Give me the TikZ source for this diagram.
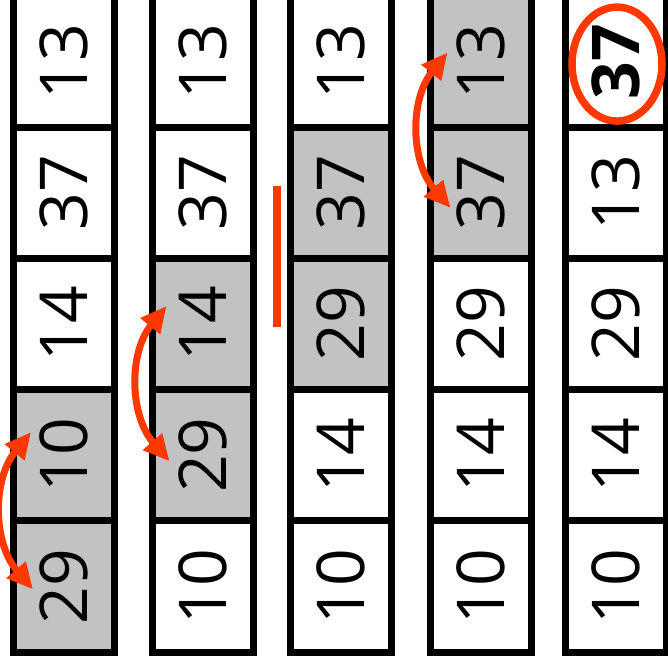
\documentclass[tikz,border=0pt]{standalone}
\usepackage{fontspec}
\setmainfont{Open Sans}
\usepackage{tikz}
\usetikzlibrary{arrows.meta,shapes.geometric}
\definecolor{pickgrey}{RGB}{194,194,194}
\definecolor{swapred}{RGB}{255,56,0}

\begin{document}
\begin{tikzpicture}[x=1pt, y=-1pt, font=\fontsize{66pt}{66pt}\selectfont,
    cell/.style={draw=black, line width=7pt, rotate=90, fill=white,
                 minimum width=131.2pt, minimum height=101pt, inner sep=0pt},
    swap/.style={{Triangle[length=26pt,width=24pt]}-{Triangle[length=26pt,width=24pt]},
                 line width=7pt, swapred},
    ring/.style={draw=swapred, line width=7.5pt}]
\useasboundingbox (0,0) rectangle (668,666);
% passes 1-4, the two compared cells are grey
\foreach \c/\cx/\g/\vals in {1/64/4/{13,37,14,10,29},
                             2/202.5/3/{13,37,14,29,10},
                             3/340.5/2/{13,37,29,14,10},
                             4/480.5/1/{13,37,29,14,10}} {
    \foreach \v [count=\r] in \vals {
        \ifnum\r=\g \def\fc{pickgrey}\else
          \ifnum\r=\numexpr\g+1\relax \def\fc{pickgrey}\else \def\fc{white}\fi\fi
        \node[cell, fill=\fc] (c\c\r) at (\cx,{-4+131.2*(\r-0.5)}) {\v};
    }
}
% result column
\node[cell] (c51) at (615.5,61.6) {\textbf{37}};
\foreach \v [count=\r from 2] in {13,29,14,10}
    \node[cell] (c5\r) at (615.5,{-4+131.2*(\r-0.5)}) {\v};
% swaps
\draw[swap] ([shift={(-33,-23)}]c14.center) to[bend right=40] ([shift={(-31,3)}]c15.center);
\draw[swap] ([shift={(-36,-18)}]c23.center) to[bend right=40] ([shift={(-33,6)}]c24.center);
\draw[swap] ([shift={(-33,-9)}]c41.center) to[bend right=40] ([shift={(-30,15)}]c42.center);
% no swap
\draw[swapred, line width=8.5pt] (277,186) -- (277,327);
\draw[ring] ([shift={(1.5,2.5)}]c51.center) ellipse [x radius=45pt, y radius=57pt];
\end{tikzpicture}
\end{document}
